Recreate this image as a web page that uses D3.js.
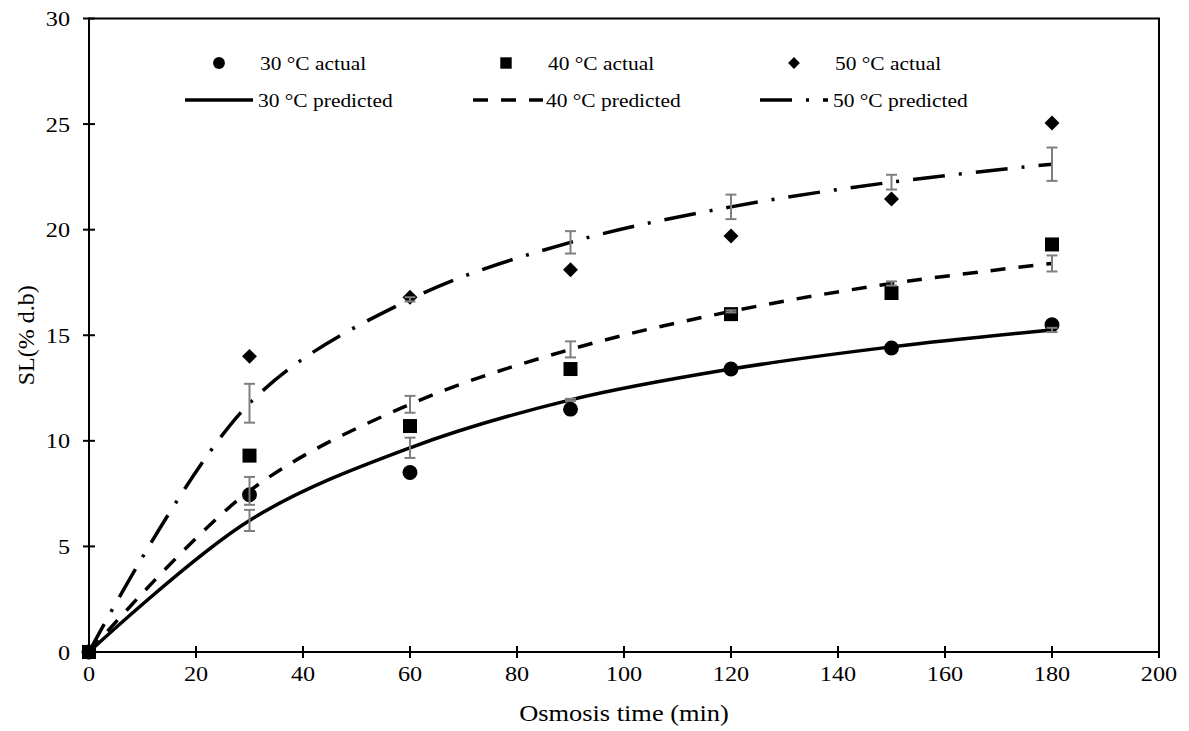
<!DOCTYPE html>
<html>
<head>
<meta charset="utf-8">
<script src="https://cdn.jsdelivr.net/npm/d3@7"></script>
<style>
  body { margin: 0; background: #fff; }
  svg { display: block; }
  text { font-family: "Liberation Serif", "Times New Roman", serif; fill: #000; }
</style>
</head>
<body>
<svg width="1189" height="731"></svg>
<script>
'use strict';

// osmosis time (min)
const times = [0, 30, 60, 90, 120, 150, 180];

// measured solid loss
const actual30 = [0, 7.45, 8.5, 11.5, 13.4, 14.4, 15.5];
const actual40 = [0, 9.3, 10.7, 13.4, 16.0, 17.0, 19.3];
const actual50 = [0, 14.0, 16.8, 18.1, 19.7, 21.45, 25.05];

// model output + error bars
const pred30 = [0, 6.23, 9.67, 11.94, 13.4, 14.45, 15.25];
const pred40 = [0, 7.63, 11.73, 14.33, 16.13, 17.45, 18.4];
const pred50 = [0, 11.78, 16.7, 19.4, 21.08, 22.25, 23.1];
const err30 = [0, 0.5, 0.48, 0.05, 0, 0, 0.1];
const err40 = [0, 0.66, 0.4, 0.38, 0.05, 0.1, 0.38];
const err50 = [0, 0.92, 0.1, 0.53, 0.58, 0.35, 0.79];

const xTicks = [0, 20, 40, 60, 80, 100, 120, 140, 160, 180, 200];
const yTicks = [0, 5, 10, 15, 20, 25, 30];

// diamond = square turned 45deg (d3's own diamond is too narrow)
const actualSeries = [
    { name: "30 °C actual", values: actual30, shape: d3.symbolCircle, size: 175, lsize: 110, rot: 0 },
    { name: "40 °C actual", values: actual40, shape: d3.symbolSquare, size: 196, lsize: 130, rot: 0 },
    { name: "50 °C actual", values: actual50, shape: d3.symbolSquare, size: 112, lsize: 70, rot: 45 }
];
const predSeries = [
    { name: "30 °C predicted", values: pred30, err: err30, dash: null },
    { name: "40 °C predicted", values: pred40, err: err40, dash: "15,13" },
    { name: "50 °C predicted", values: pred50, err: err50, dash: "32,14,3,14" }
];

const svg = d3.select("svg");
const x = d3.scaleLinear().domain([0, 200]).range([89, 1159]);
const y = d3.scaleLinear().domain([0, 30]).range([652, 18.5]);
const SX = 1.1; // reference text looks a bit wide

const label = (g, px, py, str, size, anchor) =>
    g.append("text")
        .attr("transform", `translate(${px},${py}) scale(${SX},1)`)
        .attr("text-anchor", anchor || "middle")
        .style("font-size", size + "px")
        .text(str);

// frame
svg.append("rect")
    .attr("x", x(0)).attr("y", y(30))
    .attr("width", x(200) - x(0)).attr("height", y(0) - y(30))
    .attr("fill", "none").attr("stroke", "#000").attr("stroke-width", 2);

// axes with crossing ticks
const axes = svg.append("g").attr("stroke", "#000").attr("stroke-width", 2);
axes.selectAll(".xt").data(xTicks).join("line")
    .attr("x1", d => x(d)).attr("x2", d => x(d))
    .attr("y1", y(0) - 6).attr("y2", y(0) + 6);
axes.selectAll(".yt").data(yTicks).join("line")
    .attr("y1", d => y(d)).attr("y2", d => y(d))
    .attr("x1", x(0) - 6).attr("x2", x(0) + 6);

const labels = svg.append("g");
xTicks.forEach(t => label(labels, x(t), 681, t, 22));
yTicks.forEach(t => label(labels, 70, y(t) + 7.5, t, 22, "end"));
label(labels, 624, 721, "Osmosis time (min)", 24);
labels.append("text")
    .attr("transform", `translate(34,${(y(0) + y(30)) / 2}) rotate(-90)`)
    .attr("text-anchor", "middle")
    .style("font-size", "24px")
    .text("SL(% d.b)");

// actual points
actualSeries.forEach(s => {
    svg.append("g").selectAll("path").data(times).join("path")
        .attr("transform", (t, i) => `translate(${x(t)},${y(s.values[i])}) rotate(${s.rot})`)
        .attr("d", d3.symbol().type(s.shape).size(s.size))
        .attr("fill", "#000");
});

// predicted curves
const line = d3.line()
    .curve(d3.curveCatmullRom)
    .x(d => x(d[0]))
    .y(d => y(d[1]));

predSeries.forEach(s => {
    svg.append("path")
        .datum(times.map((t, i) => [t, s.values[i]]))
        .attr("d", line)
        .attr("fill", "none")
        .attr("stroke", "#000")
        .attr("stroke-width", 3.5)
        .attr("stroke-dasharray", s.dash);
});

// error bars
predSeries.forEach(s => {
    const g = svg.append("g").attr("stroke", "#7f7f7f").attr("stroke-width", 2);
    times.forEach((t, i) => {
        const e = s.err[i];
        if (!e) return;
        const lo = y(s.values[i] - e), hi = y(s.values[i] + e);
        g.append("line").attr("x1", x(t)).attr("x2", x(t)).attr("y1", lo).attr("y2", hi);
        g.append("line").attr("x1", x(t) - 5.5).attr("x2", x(t) + 5.5).attr("y1", lo).attr("y2", lo);
        g.append("line").attr("x1", x(t) - 5.5).attr("x2", x(t) + 5.5).attr("y1", hi).attr("y2", hi);
    });
});

// legend
const legend = svg.append("g");
const markX = [219, 506, 794], textX = [260, 548, 835];
const lineX = [[185, 253], [473, 543], [760, 828]];
actualSeries.forEach((s, i) => {
    legend.append("path")
        .attr("transform", `translate(${markX[i]},63) rotate(${s.rot})`)
        .attr("d", d3.symbol().type(s.shape).size(s.lsize))
        .attr("fill", "#000");
    label(legend, textX[i], 70, s.name, 19.5, "start");
});
predSeries.forEach((s, i) => {
    legend.append("line")
        .attr("x1", lineX[i][0]).attr("x2", lineX[i][1])
        .attr("y1", 100).attr("y2", 100)
        .attr("stroke", "#000").attr("stroke-width", 3.5)
        .attr("stroke-dasharray", s.dash);
    label(legend, textX[i] - 2, 107, s.name, 19.5, "start");
});
</script>
</body>
</html>
